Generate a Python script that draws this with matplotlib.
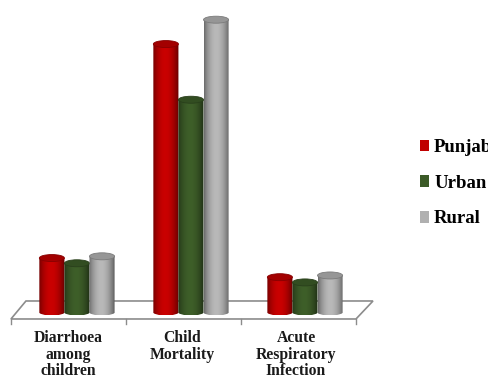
import numpy as np
import matplotlib.pyplot as plt
from matplotlib.patches import Ellipse, Polygon, PathPatch, Patch
from matplotlib.path import Path
from matplotlib.transforms import ScaledTranslation
from matplotlib.colors import to_rgb

# data
categories = ["Diarrhoea\namong\nchildren", "Child\nMortality", "Acute\nRespiratory\nInfection"]
series = ["Punjab", "Urban", "Rural"]
punjab = [15.5, 77, 10]
urban = [14, 61, 8.5]
rural = [16, 84, 10.5]
colors = ["#C00000", "#3B5A27", "#B0B0B0"]

plt.rcParams["font.family"] = ["Liberation Serif", "DejaVu Serif"]
plt.rcParams["font.weight"] = "bold"

fig = plt.figure(figsize=(4.89, 3.78), dpi=100)
ax = fig.add_axes([0, 0, 1, 1])
xlim = (-0.675, 3.614)
ylim = (-18.97, 89.66)
ax.set_xlim(*xlim)
ax.set_ylim(*ylim)
ax.axis("off")

x = np.arange(len(categories))
width = 0.22


def px_offset(dx, dy):
    return ax.transData + ScaledTranslation(dx / fig.dpi, dy / fig.dpi, fig.dpi_scale_trans)


def shifted(xv, yv, dx, dy):
    # data point moved by some pixels on screen
    p = ax.transData.transform((xv, yv)) + np.array([dx, dy])
    return ax.transData.inverted().transform(p)


# floor
lo, hi = x[0] - 0.5, x[-1] + 0.5
floor = [shifted(lo, 0, -9, -7), shifted(hi, 0, -6, -7),
         shifted(hi, 0, 11, 11), shifted(lo, 0, 6, 11)]
ax.add_patch(Polygon(floor, closed=True, facecolor="white", edgecolor="#8c8c8c",
                     lw=1.2, zorder=1))
for b in np.arange(lo, hi + 0.01, 1.0):
    dx = -9 + 3 * (b - lo) / (hi - lo)
    top = shifted(b, 0, dx, -7)
    bot = shifted(b, 0, dx, -12)
    ax.plot([top[0], bot[0]], [top[1], bot[1]], color="#8c8c8c", lw=1.0, zorder=1)


def shade(color):
    # horizontal light profile of a cylinder
    t = np.linspace(0, 1, 64)
    f = 0.6 + 0.5 * np.sin(np.pi * t) ** 0.8
    f = f - 0.1 * t
    base = np.array(to_rgb(color))
    img = np.clip(base[None, :] * f[:, None], 0, 1)
    return img[None, :, :]


px_per_unit = ax.transData.transform((0, 1))[1] - ax.transData.transform((0, 0))[1]
ry = 3.5 / px_per_unit

values = [punjab, urban, rural]
for i, (name, vals, col) in enumerate(zip(series, values, colors)):
    bars = ax.bar(x + (i - 1) * width, vals, width, color="none", zorder=2)
    for rect in bars:
        x0, w, h = rect.get_x(), rect.get_width(), rect.get_height()
        cx = x0 + w / 2
        # body with rounded bottom
        arc = Path.arc(180, 360)
        arc_pts = arc.vertices * [w / 2, ry] + [cx, 0]
        verts = np.vstack([[x0, h], arc_pts, [x0 + w, h], [x0, h]])
        path = Path(verts, closed=True)
        body = PathPatch(path, facecolor="none", edgecolor="none", zorder=3 + i)
        ax.add_patch(body)
        im = ax.imshow(shade(col), extent=(x0, x0 + w, -ry, h), aspect="auto",
                       zorder=3 + i, interpolation="bilinear")
        im.set_clip_path(body)
        top_col = np.array(to_rgb(col)) * 0.85
        ax.add_patch(Ellipse((cx, h), w, 2 * ry, facecolor=top_col,
                             edgecolor=np.array(to_rgb(col)) * 0.7, lw=0.6, zorder=3 + i))

# category labels
for xi, label in zip(x, categories):
    ax.text(xi, 0, label, transform=px_offset(-9, -18), ha="center", va="top",
            fontsize=11.3, fontweight="bold", linespacing=1.06, color="#1a1a1a")

ax.set_xlim(*xlim)
ax.set_ylim(*ylim)

handles = [Patch(facecolor=c, edgecolor="none") for c in colors]
fig.legend(handles, series, loc="upper left", bbox_to_anchor=(420 / 489, (378 - 139) / 378),
           frameon=False, borderpad=0, borderaxespad=0, handlelength=0.5, handleheight=0.55,
           handletextpad=0.25, labelspacing=1.0,
           prop={"family": "Liberation Serif", "weight": "bold", "size": 13.5})

fig.savefig("out.png", dpi=100)
